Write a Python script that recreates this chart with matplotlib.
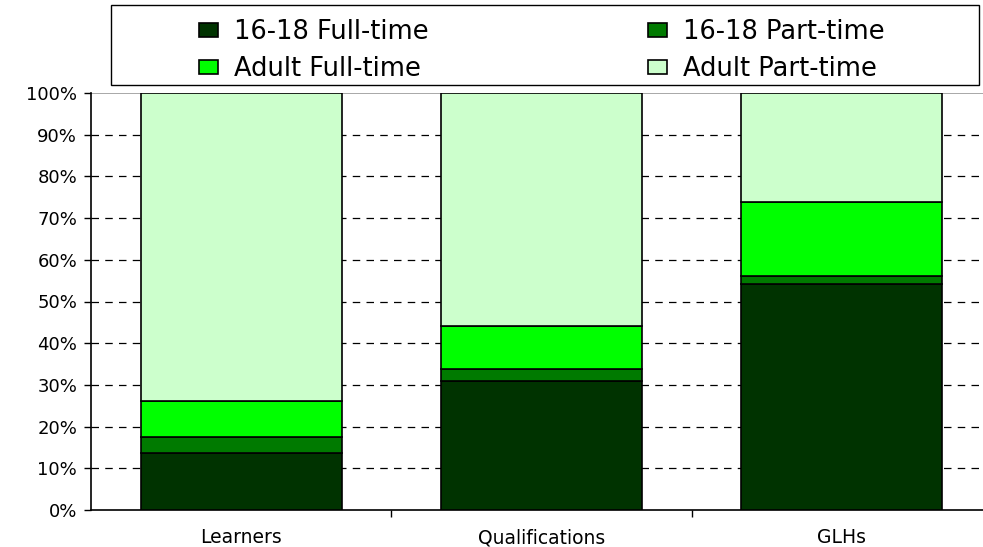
import numpy as np
import matplotlib.pyplot as plt
from matplotlib.patches import Rectangle
from matplotlib.ticker import FixedLocator

# Anteile in Prozent je Kategorie
categories = ['Learners', 'Qualifications', 'GLHs']
ft_16_18 = [13.7, 31.0, 54.1]
pt_16_18 = [3.8, 2.8, 2.0]
adult_ft = [8.6, 10.4, 17.8]
adult_pt = [73.9, 55.8, 26.1]

series = ['16-18 Full-time', '16-18 Part-time', 'Adult Full-time', 'Adult Part-time']
colors = ['#003300', '#007a00', '#00ff00', '#ccffcc']
values = [ft_16_18, pt_16_18, adult_ft, adult_pt]

W, H = 983, 547
fig = plt.figure(figsize=(W/100, H/100), dpi=100)
ax = fig.add_axes([91/W, 37/H, 901/W, 417/H])

x = np.arange(len(categories))
bottom = np.zeros(len(categories))
bars = []
for name, col, vals in zip(series, colors, values):
    b = ax.bar(x, vals, 0.67, bottom=bottom, color=col, edgecolor='black',
               linewidth=1.2, label=name, zorder=3)
    bars.append(b)
    bottom += np.array(vals)

ax.set_xlim(-0.5, len(categories) - 0.5)
ax.set_ylim(0, 100)

# Gitterlinien
for yv in range(10, 100, 10):
    ax.axhline(yv, color='black', lw=0.9, ls=(0, (6, 5)), zorder=1)
ax.axhline(100, color='#999999', lw=1.2, zorder=1)

ax.set_yticks(range(0, 101, 10))
ax.set_yticklabels([f'{v}%' for v in range(0, 101, 10)], fontsize=13)
ax.set_xticks(x)
ax.set_xticklabels(categories, fontsize=13.5)
ax.tick_params(axis='x', length=0, pad=13)
ax.tick_params(axis='y', length=5, width=1, direction='out', pad=5)
ax.xaxis.set_minor_locator(FixedLocator([0.5, 1.5]))
ax.tick_params(axis='x', which='minor', length=5, width=1, direction='out')

for s in ['top', 'right']:
    ax.spines[s].set_visible(False)
ax.spines['left'].set_linewidth(1.2)
ax.spines['bottom'].set_linewidth(1.2)

# Legende oben, zwei Spalten, eigener Rahmen
handles = [bars[0], bars[2], bars[1], bars[3]]
labels = [series[0], series[2], series[1], series[3]]
leg = fig.legend(handles, labels, ncol=2, loc='upper left',
                 bbox_to_anchor=(199/W, 1 - 19/H), frameon=False,
                 fontsize=18.5, handlelength=0.75, handleheight=0.5,
                 handletextpad=0.6, columnspacing=8.55, borderaxespad=0,
                 borderpad=0, labelspacing=0.43)
fig.add_artist(Rectangle((111/W, 1 - 85/H), 868/W, 80/H, transform=fig.transFigure,
                         fill=False, edgecolor='black', linewidth=1.0))

plt.savefig('out.png', dpi=100)
